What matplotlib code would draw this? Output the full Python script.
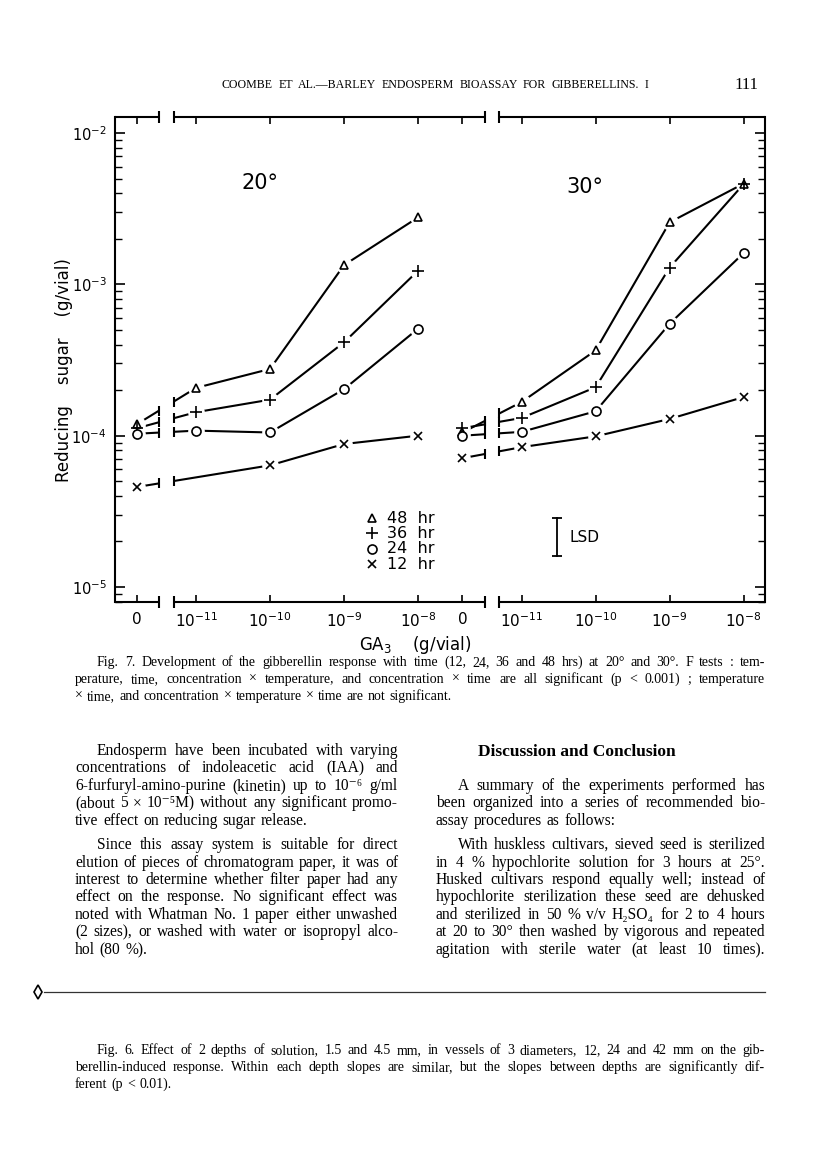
import numpy as np
import matplotlib
matplotlib.use('Agg')
import matplotlib.pyplot as plt
import matplotlib.transforms as mtransforms
from matplotlib.ticker import NullFormatter

W, H = 816, 1152

# ---- chart data ----
conc = [0.0, 1e-11, 1e-10, 1e-9, 1e-8]
conc_labels = ['0', '$10^{-11}$', '$10^{-10}$', '$10^{-9}$', '$10^{-8}$']
hours = ['48  hr', '36  hr', '24  hr', '12  hr']
temps = ['20°', '30°']

h48_20 = [1.19e-4, 2.07e-4, 2.76e-4, 1.34e-3, 2.77e-3]
h36_20 = [1.12e-4, 1.43e-4, 1.73e-4, 4.14e-4, 1.23e-3]
h24_20 = [1.03e-4, 1.08e-4, 1.05e-4, 2.03e-4, 5.09e-4]
h12_20 = [4.58e-5, np.nan, 6.37e-5, 8.81e-5, 1.00e-4]

h48_30 = [1.05e-4, 1.67e-4, 3.66e-4, 2.57e-3, 4.63e-3]
h36_30 = [1.12e-4, 1.31e-4, 2.09e-4, 1.29e-3, 4.60e-3]
h24_30 = [1.00e-4, 1.06e-4, 1.45e-4, 5.49e-4, 1.61e-3]
h12_30 = [7.10e-5, 8.40e-5, 9.90e-5, 1.29e-4, 1.80e-4]

lsd_ratio = 1.78

# ---- page text ----
header = "COOMBE ET AL.—BARLEY ENDOSPERM BIOASSAY FOR GIBBERELLINS.   I"
page_no = "111"

fig7_caption = [
    "Fig. 7.  Development of the gibberellin response with time (12, 24, 36 and 48 hrs) at 20° and 30°.  F tests : tem-",
    "perature, time, concentration × temperature, and concentration × time are all significant (p < 0.001) ; temperature",
    "× time, and concentration × temperature × time are not significant.",
]
left_col = [
    "Endosperm have been incubated with varying",
    "concentrations of indoleacetic acid (IAA) and",
    "6-furfuryl-amino-purine (kinetin) up to 10⁻⁶ g/ml",
    "(about 5 × 10⁻⁵M) without any significant promo-",
    "tive effect on reducing sugar release.",
    "Since this assay system is suitable for direct",
    "elution of pieces of chromatogram paper, it was of",
    "interest to determine whether filter paper had any",
    "effect on the response.  No significant effect was",
    "noted with Whatman No. 1 paper either unwashed",
    "(2 sizes), or washed with water or isopropyl alco-",
    "hol (80 %).",
]
left_first = [0, 5]
left_last = [4, 11]
right_head = "Discussion and Conclusion"
right_col = [
    "A summary of the experiments performed has",
    "been organized into a series of recommended bio-",
    "assay procedures as follows:",
    "With huskless cultivars, sieved seed is sterilized",
    "in 4 % hypochlorite solution for 3 hours at 25°.",
    "Husked cultivars respond equally well; instead of",
    "hypochlorite sterilization these seed are dehusked",
    "and sterilized in 50 % v/v H₂SO₄ for 2 to 4 hours",
    "at 20 to 30° then washed by vigorous and repeated",
    "agitation with sterile water (at least 10 times).",
]
right_first = [0, 3]
right_last = [2]
fig6_caption = [
    "Fig. 6.  Effect of 2 depths of solution, 1.5 and 4.5 mm, in vessels of 3 diameters, 12, 24 and 42 mm on the gib-",
    "berellin-induced response.  Within each depth slopes are similar, but the slopes between depths are significantly dif-",
    "ferent (p < 0.01).",
]

SERIF = ['Liberation Serif', 'DejaVu Serif']
SANS = ['DejaVu Sans']

fig = plt.figure(figsize=(W / 100, H / 100), dpi=100)
px = mtransforms.Affine2D().scale(1 / W, -1 / H).translate(0, 1) + fig.transFigure
renderer = fig.canvas.get_renderer()


def put_line(text, x0, x1, y, size, justify=True, weight='normal'):
    words = text.split()
    objs = [fig.text(0, y, w, transform=px, fontsize=size, family=SERIF,
                     weight=weight, va='baseline', ha='left') for w in words]
    widths = [o.get_window_extent(renderer).width for o in objs]
    space = size * 100 / 72 * 0.3
    if justify and len(words) > 1:
        gap = max((x1 - x0 - sum(widths)) / (len(words) - 1), space * 0.6)
    else:
        gap = space
    x = x0
    for o, w in zip(objs, widths):
        o.set_x(x)
        x += w + gap


# ---- chart ----
ax = fig.add_axes([115 / W, 1 - 602 / H, 650 / W, 485 / H])
ax.set_yscale('log')
ax.set_ylim(10 ** -5.099, 10 ** -1.894)
ax.set_xlim(-1.095, 7.689)

offsets = [0.0, 4.4]
gap_lo, gap_hi = -0.5, -0.3
panels = [[h48_20, h36_20, h24_20, h12_20], [h48_30, h36_30, h24_30, h12_30]]
markers = ['^', '+', 'o', 'x']
msizes = [6, 8, 6.5, 5.5]
line_kw = dict(color='black', lw=1.5, zorder=2, solid_capstyle='butt')


def xpos(c, off):
    return off + (-0.8 if c == 0 else np.log10(c) + 11)


for off, series in zip(offsets, panels):
    xs = np.array([xpos(c, off) for c in conc])
    for vals, m, ms in zip(series, markers, msizes):
        v = np.array(vals, float)
        ly = np.log10(v)
        ok = ~np.isnan(ly)
        j = [k for k in range(1, len(v)) if ok[k]][0]

        def interp(x):
            return 10 ** (ly[0] + (ly[j] - ly[0]) * (x - xs[0]) / (xs[j] - xs[0]))

        g0, g1 = off + gap_lo, off + gap_hi
        ax.plot([xs[0], g0], [v[0], interp(g0)], **line_kw)
        ax.plot([g1, xs[j]], [interp(g1), v[j]], **line_kw)
        ax.plot([g0, g1], [interp(g0), interp(g1)], ls='none', marker='|',
                ms=7, mew=1.5, color='black', zorder=2)
        ax.plot(xs[j:][ok[j:]], v[j:][ok[j:]], **line_kw)
        ax.plot(xs[ok], v[ok], ls='none', marker='o', ms=12, mfc='white',
                mec='none', zorder=3)
        ax.plot(xs[ok], v[ok], ls='none', marker=m, ms=ms, mfc='white',
                mec='black', mew=1.2, zorder=4)

# broken top / bottom axes
for s in ['top', 'bottom']:
    ax.spines[s].set_visible(False)
for s in ['left', 'right']:
    ax.spines[s].set_linewidth(1.5)
xl = ax.get_xlim()
segs = [(xl[0], offsets[0] + gap_lo), (offsets[0] + gap_hi, offsets[1] + gap_lo),
        (offsets[1] + gap_hi, xl[1])]
for yy in [0, 1]:
    for a, b in segs:
        ax.plot([a, b], [yy, yy], color='black', lw=1.5, clip_on=False,
                transform=ax.get_xaxis_transform(), solid_capstyle='butt')
    ends = [offsets[0] + gap_lo, offsets[0] + gap_hi, offsets[1] + gap_lo, offsets[1] + gap_hi]
    ax.plot(ends, [yy] * 4, ls='none', marker='|', ms=9, mew=1.5, color='black',
            clip_on=False, transform=ax.get_xaxis_transform())

ticks = [xpos(c, off) for off in offsets for c in conc]
ax.set_xticks(ticks, conc_labels * 2)
ax.tick_params(axis='x', direction='in', top=True, bottom=True, length=5,
               width=1.2, labelsize=11, pad=7)
ax.tick_params(axis='y', which='major', direction='in', left=True, right=True,
               length=7, width=1.2, labelsize=10.5, pad=6)
ax.tick_params(axis='y', which='minor', direction='in', left=True, right=True,
               length=5, width=1.0)
ax.yaxis.set_minor_formatter(NullFormatter())

# panel labels
ax.text(0.223, 0.864, temps[0], transform=ax.transAxes, fontsize=15,
        ha='center', va='center')
ax.text(0.723, 0.856, temps[1], transform=ax.transAxes, fontsize=15,
        ha='center', va='center')

# legend
for k, (lab, m, ms) in enumerate(zip(hours, markers, msizes)):
    yy = 0.173 - k * 0.0317
    ax.plot([0.395], [yy], transform=ax.transAxes, ls='none', marker=m, ms=ms,
            mfc='white', mec='black', mew=1.2)
    ax.text(0.418, yy, lab, transform=ax.transAxes, fontsize=11.5, va='center',
            ha='left')

# LSD bar
lsd_x, lsd_bottom = 4.88, 1.6e-5
ax.plot([lsd_x, lsd_x], [lsd_bottom, lsd_bottom * lsd_ratio], color='black', lw=1.3)
ax.plot([lsd_x, lsd_x], [lsd_bottom, lsd_bottom * lsd_ratio], ls='none',
        marker='_', ms=7, mew=1.3, color='black')
ax.text(lsd_x + 0.17, lsd_bottom * np.sqrt(lsd_ratio), 'LSD', fontsize=11,
        va='center', ha='left')

fig.text(64, 370, 'Reducing    sugar    (g/vial)', transform=px, rotation=90,
         fontsize=12, ha='center', va='center', family=SANS)
fig.text(415, 645, 'GA$_3$    (g/vial)', transform=px, fontsize=12,
         ha='center', va='center', family=SANS)

# ---- page text ----
put_line(header, 222, 648, 88, 8.6)
fig.text(758, 89, page_no, transform=px, fontsize=12, family=SERIF,
         ha='right', va='baseline')

for i, line in enumerate(fig7_caption):
    put_line(line, 97 if i == 0 else 75, 765, 666 + 17 * i, 10,
             justify=i < len(fig7_caption) - 1)

left_y = [755, 772, 790, 807, 825, 849, 867, 884, 901, 919, 936, 954]
for i, line in enumerate(left_col):
    put_line(line, 97 if i in left_first else 75, 398, left_y[i], 11.2,
             justify=i not in left_last)

fig.text(577, 756, right_head, transform=px, fontsize=12.5, family=SERIF,
         weight='bold', ha='center', va='baseline')
right_y = [790, 807, 825, 849, 867, 884, 901, 919, 936, 954]
for i, line in enumerate(right_col):
    put_line(line, 458 if i in right_first else 436, 765, right_y[i], 11.2,
             justify=i not in right_last)

fig.add_artist(plt.Line2D([44 / W, 765 / W], [1 - 992 / H] * 2, color='#333333',
                          lw=0.9, transform=fig.transFigure))
fig.add_artist(plt.Line2D([38 / W], [1 - 992 / H], marker='d', ms=7, mfc='white',
                          mec='black', mew=1.2, transform=fig.transFigure))

for i, line in enumerate(fig6_caption):
    put_line(line, 97 if i == 0 else 75, 765, 1054 + 17 * i, 10,
             justify=i < len(fig6_caption) - 1)

fig.savefig('out.png', dpi=100, facecolor='white')
